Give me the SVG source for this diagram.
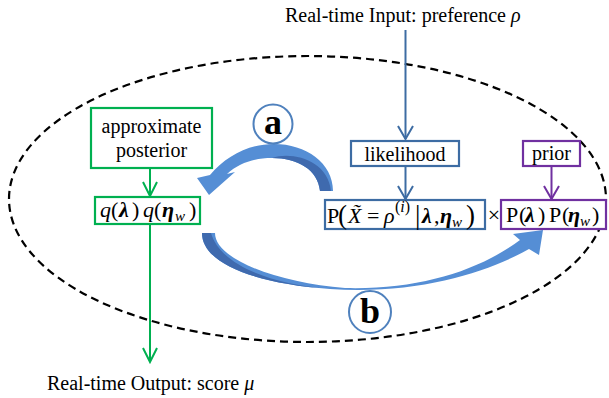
<svg xmlns="http://www.w3.org/2000/svg" width="609" height="398" viewBox="0 0 609 398">
  <style>
    text { font-family: "Liberation Serif", "Times New Roman", serif; fill: #000; }
    .lbl { font-size: 20px; }
    .mth { font-size: 22px; }
    .it { font-style: italic; }
    .bi { font-style: italic; font-weight: bold; }
    .sub { font-size: 15px; font-style: italic; }
    .sup { font-size: 16px; }
    .big { font-size: 27px; }
    .box-green { fill: #fff; stroke: #00B050; stroke-width: 2.2; }
    .box-blue { fill: #fff; stroke: #3D6CA3; stroke-width: 2.2; }
    .box-purple { fill: #fff; stroke: #7030A0; stroke-width: 2.2; }
    .tag { fill: #fff; stroke: #4F81BD; stroke-width: 2; }
    .tag-txt { font-size: 36px; font-weight: bold; text-anchor: middle; }
    .frame { fill: none; stroke: #000; stroke-width: 2.2; stroke-dasharray: 8 5; }
    .ribbon { fill: #558ED5; }
    .ribbon-shade { fill: #3F6AAE; }
  </style>
  <defs>
    <marker id="ah-green" viewBox="-16 -10 18 20" refX="0" refY="0" markerWidth="18" markerHeight="20" markerUnits="userSpaceOnUse" orient="auto">
      <path d="M-14,-7 L0,0 L-14,7" fill="none" stroke="#00B050" stroke-width="2"/>
    </marker>
    <marker id="ah-blue" viewBox="-16 -10 18 20" refX="0" refY="0" markerWidth="18" markerHeight="20" markerUnits="userSpaceOnUse" orient="auto">
      <path d="M-13,-7.5 L0,0 L-13,7.5" fill="none" stroke="#3D6CA3" stroke-width="2"/>
    </marker>
    <marker id="ah-purple" viewBox="-16 -10 18 20" refX="0" refY="0" markerWidth="18" markerHeight="20" markerUnits="userSpaceOnUse" orient="auto">
      <path d="M-13,-7.5 L0,0 L-13,7.5" fill="none" stroke="#7030A0" stroke-width="2"/>
    </marker>
  </defs>

  <!-- dashed boundary of the inference loop -->
  <ellipse id="loop-frame" class="frame" cx="307.5" cy="199" rx="298.5" ry="143"/>

  <!-- connectors -->
  <g id="connectors" fill="none" stroke-width="2">
    <line x1="405.5" y1="30" x2="405.5" y2="139" stroke="#3D6CA3" marker-end="url(#ah-blue)"/>
    <line x1="405.5" y1="166" x2="405.5" y2="199" stroke="#3D6CA3" marker-end="url(#ah-blue)"/>
    <line x1="150" y1="168" x2="150" y2="196" stroke="#00B050" marker-end="url(#ah-green)"/>
    <line x1="150" y1="224" x2="150" y2="362" stroke="#00B050" marker-end="url(#ah-green)"/>
    <line x1="551.5" y1="166" x2="551.5" y2="199" stroke="#7030A0" marker-end="url(#ah-purple)"/>

    <!-- curved arrow a: likelihood x prior back into the approximation -->
    <g id="arrow-a" stroke="none">
      <path class="ribbon" d="M333,191 C333,163 306,144 274,144 C249,144 226,156 210,175 L197,178 L209,195 L235,172 L227,174 C239,163 254,158 272,158 C298,158 318,170 320,191 Z"/>
      <path class="ribbon-shade" d="M320,191 C318,170 298,158 272,158 C292,151 328,160 331,191 Z"/>
    </g>
    <!-- curved arrow b: approximation forward into the model terms -->
    <g id="arrow-b" stroke="none">
      <path class="ribbon" d="M202,233 C202,262 250,283 330,289 C420,295 490,271 529,249 L539,255 L543,230 L513,234 L520,240 C480,270 420,290 345,288 C280,283 215,260 215,233 Z"/>
      <path class="ribbon-shade" d="M202,233 C202,262 250,283 330,289 C268,284 220,264 211,233 Z"/>
    </g>
  </g>

  <!-- labels a / b -->
  <g id="tag-a">
    <circle class="tag" cx="273" cy="124" r="19.5"/>
    <text class="tag-txt" x="273" y="134">a</text>
  </g>
  <g id="tag-b">
    <circle class="tag" cx="370" cy="312" r="21"/>
    <text class="tag-txt" x="370" y="323">b</text>
  </g>

  <!-- input / output captions -->
  <g id="input-label">
    <text class="lbl" x="285" y="22">Real-time Input: preference <tspan class="it">ρ</tspan></text>
  </g>
  <g id="output-label">
    <text class="lbl" x="47" y="390">Real-time Output: score <tspan class="it">μ</tspan></text>
  </g>

  <!-- approximate posterior -->
  <g id="approx-posterior">
    <rect class="box-green" x="91" y="108" width="121" height="60"/>
    <text class="lbl" x="151.5" y="133" text-anchor="middle">approximate</text>
    <text class="lbl" x="151.5" y="157" text-anchor="middle">posterior</text>
  </g>

  <!-- q(lambda) q(eta_w) -->
  <g id="q-node">
    <rect class="box-green" x="95" y="197" width="105" height="27"/>
    <text class="mth" y="217">
      <tspan class="it" x="100">q</tspan><tspan x="111">(</tspan><tspan class="bi" x="119">λ</tspan><tspan x="132">)</tspan><tspan class="it" x="143">q</tspan><tspan x="154">(</tspan><tspan class="bi" x="162">η</tspan><tspan class="sub" x="175" dy="4">w</tspan><tspan x="189" dy="-4">)</tspan>
    </text>
  </g>

  <!-- likelihood -->
  <g id="likelihood">
    <rect class="box-blue" x="351" y="141" width="108" height="25"/>
    <text class="lbl" x="405" y="161" text-anchor="middle">likelihood</text>
  </g>

  <!-- P(X~ = rho^(i) | lambda, eta_w) -->
  <g id="likelihood-expr">
    <rect class="box-blue" x="325" y="200" width="160" height="29"/>
    <text class="mth" y="223">
      <tspan x="327">P</tspan><tspan class="it" x="348">X&#x303;</tspan><tspan x="367">=</tspan><tspan class="it" x="384">ρ</tspan><tspan class="bi" x="422">λ</tspan><tspan x="434">,</tspan><tspan class="bi" x="440">η</tspan><tspan class="sub" x="452" dy="4">w</tspan>
    </text>
    <text class="sup" x="395" y="212">(<tspan class="it">i</tspan>)</text>
    <text class="big" x="338" y="224">(</text>
    <text class="big" x="415" y="224">|</text>
    <text class="big" x="466" y="224">)</text>
  </g>

  <text class="mth" x="494" y="222" text-anchor="middle">×</text>

  <!-- prior -->
  <g id="prior">
    <rect class="box-purple" x="523" y="141" width="57" height="25"/>
    <text class="lbl" x="551.5" y="160" text-anchor="middle">prior</text>
  </g>

  <!-- P(lambda) P(eta_w) -->
  <g id="prior-expr">
    <rect class="box-purple" x="501" y="200" width="105" height="29"/>
    <text class="mth" y="222">
      <tspan x="506">P</tspan><tspan x="519">(</tspan><tspan class="bi" x="525">λ</tspan><tspan x="538">)</tspan><tspan x="549">P</tspan><tspan x="562">(</tspan><tspan class="bi" x="568">η</tspan><tspan class="sub" x="580" dy="4">w</tspan><tspan x="592" dy="-4">)</tspan>
    </text>
  </g>
</svg>
